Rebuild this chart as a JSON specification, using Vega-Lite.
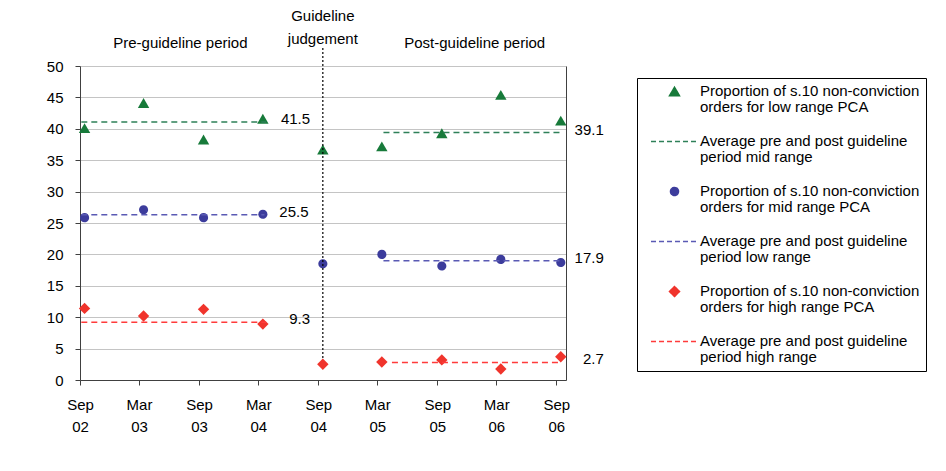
{
  "$schema": "https://vega.github.io/schema/vega-lite/v6.json",
  "width": 486,
  "height": 314,
  "autosize": "none",
  "padding": {"left": 80, "top": 66, "right": 380, "bottom": 91},
  "background": "white",
  "config": {
    "font": "Liberation Sans",
    "view": {"stroke": null},
    "axis": {"labelFontSize": 15, "labelColor": "black", "domainColor": "#404040", "tickColor": "#404040", "gridColor": "#c4c4c4"},
    "legend": {
      "strokeColor": "black", "padding": 6,
      "symbolOffset": 24, "labelOffset": 18, "labelFontSize": 15, "labelColor": "black",
      "labelLimit": 400, "rowPadding": 18, "symbolSize": 100, "symbolStrokeWidth": 1.5,
      "labelBaseline": "top"
    }
  },
  "datasets": {
    "points": [
      {"series": "low", "date": "2002-09-15", "value": 40.1},
      {"series": "low", "date": "2003-03-15", "value": 44.1},
      {"series": "low", "date": "2003-09-15", "value": 38.3},
      {"series": "low", "date": "2004-03-15", "value": 41.6},
      {"series": "low", "date": "2004-09-15", "value": 36.7},
      {"series": "low", "date": "2005-03-15", "value": 37.2},
      {"series": "low", "date": "2005-09-15", "value": 39.3},
      {"series": "low", "date": "2006-03-15", "value": 45.4},
      {"series": "low", "date": "2006-09-15", "value": 41.3},
      {"series": "mid", "date": "2002-09-15", "value": 25.85},
      {"series": "mid", "date": "2003-03-15", "value": 27.1},
      {"series": "mid", "date": "2003-09-15", "value": 25.85},
      {"series": "mid", "date": "2004-03-15", "value": 26.4},
      {"series": "mid", "date": "2004-09-15", "value": 18.5},
      {"series": "mid", "date": "2005-03-15", "value": 20.0},
      {"series": "mid", "date": "2005-09-15", "value": 18.15},
      {"series": "mid", "date": "2006-03-15", "value": 19.2},
      {"series": "mid", "date": "2006-09-15", "value": 18.7},
      {"series": "high", "date": "2002-09-15", "value": 11.4},
      {"series": "high", "date": "2003-03-15", "value": 10.2},
      {"series": "high", "date": "2003-09-15", "value": 11.25},
      {"series": "high", "date": "2004-03-15", "value": 8.9},
      {"series": "high", "date": "2004-09-15", "value": 2.5},
      {"series": "high", "date": "2005-03-15", "value": 2.87},
      {"series": "high", "date": "2005-09-15", "value": 3.2},
      {"series": "high", "date": "2006-03-15", "value": 1.75},
      {"series": "high", "date": "2006-09-15", "value": 3.7}
    ],
    "averages": [
      {"series": "low avg", "period": "pre", "start": "2002-09-05", "end": "2004-03-25", "value": 41.1, "label": "41.5"},
      {"series": "low avg", "period": "post", "start": "2005-03-20", "end": "2006-09-12", "value": 39.4, "label": "39.1"},
      {"series": "mid avg", "period": "pre", "start": "2002-09-05", "end": "2004-03-20", "value": 26.3, "label": "25.5"},
      {"series": "mid avg", "period": "post", "start": "2005-03-20", "end": "2006-09-12", "value": 19.0, "label": "17.9"},
      {"series": "high avg", "period": "pre", "start": "2002-09-05", "end": "2004-03-25", "value": 9.2, "label": "9.3"},
      {"series": "high avg", "period": "post", "start": "2005-04-15", "end": "2006-09-12", "value": 2.8, "label": "2.7"}
    ],
    "judgement": [
      {"date": "2004-09-15", "y": 3.5, "y2": 53}
    ],
    "notes": [
      {"date": "2003-07-06", "y": 53.7, "text": "Pre-guideline period"},
      {"date": "2004-09-15", "y": 57.9, "text": "Guideline\njudgement"},
      {"date": "2005-12-25", "y": 53.7, "text": "Post-guideline period"}
    ]
  },
  "resolve": {"axis": {"y": "independent"}},
  "layer": [
    {
      "data": {"name": "points"},
      "mark": {"type": "point", "filled": true, "opacity": 1, "size": 130},
      "encoding": {
        "x": {
          "field": "date", "type": "temporal", "title": null,
          "scale": {"type": "utc", "domain": [{"year": 2002, "month": 9, "date": 1, "utc": true}, {"year": 2006, "month": 10, "date": 1, "utc": true}]},
          "axis": {
            "values": [
              {"year": 2002, "month": 9, "date": 1, "utc": true},
              {"year": 2003, "month": 3, "date": 1, "utc": true},
              {"year": 2003, "month": 9, "date": 1, "utc": true},
              {"year": 2004, "month": 3, "date": 1, "utc": true},
              {"year": 2004, "month": 9, "date": 1, "utc": true},
              {"year": 2005, "month": 3, "date": 1, "utc": true},
              {"year": 2005, "month": 9, "date": 1, "utc": true},
              {"year": 2006, "month": 3, "date": 1, "utc": true},
              {"year": 2006, "month": 9, "date": 1, "utc": true}
            ],
            "labelExpr": "[utcFormat(datum.value, '%b'), utcFormat(datum.value, '%y')]",
            "labelLineHeight": 22, "tickSize": 5, "labelPadding": 12.5, "grid": false,
            "labelFlush": false, "labelOverlap": false, "title": null
          }
        },
        "y": {
          "field": "value", "type": "quantitative", "title": null,
          "scale": {"domain": [0, 50]},
          "axis": {"values": [0, 5, 10, 15, 20, 25, 30, 35, 40, 45, 50], "tickSize": 5, "labelPadding": 12, "grid": true, "title": null}
        },
        "color": {
          "field": "series", "type": "nominal",
          "scale": {"domain": ["low", "low avg", "mid", "mid avg", "high", "high avg"], "range": ["#177a3a", "#2e8058", "#3c3c9c", "#5a5ab4", "#f0342c", "#ff3b3b"]},
          "legend": {
            "title": null, "orient": "none", "legendX": 557, "legendY": 12,
            "labelExpr": "datum.value == 'low' ? ['Proportion of s.10 non-conviction', 'orders for low range PCA'] : datum.value == 'low avg' ? ['Average pre and post guideline', 'period mid range'] : datum.value == 'mid' ? ['Proportion of s.10 non-conviction', 'orders for mid range PCA'] : datum.value == 'mid avg' ? ['Average pre and post guideline', 'period low range'] : datum.value == 'high' ? ['Proportion of s.10 non-conviction', 'orders for high range PCA'] : ['Average pre and post guideline', 'period high range']",
            "encoding": {
              "symbols": {
                "fill": {"condition": {"test": "indexof(datum.value, 'avg') >= 0", "value": "transparent"}, "value": {"expr": "scale('color', datum.value)"}},
                "stroke": {"condition": {"test": "indexof(datum.value, 'avg') >= 0", "value": {"expr": "scale('color', datum.value)"}}, "value": "transparent"},
                "strokeDash": {"condition": {"test": "indexof(datum.value, 'avg') >= 0", "value": [5, 3]}, "value": [1, 0]},
                "opacity": {"value": 1}
              },
              "labels": {"dy": {"value": -8}, "lineHeight": {"value": 16}}
            }
          }
        },
        "shape": {
          "field": "series", "type": "nominal",
          "scale": {"domain": ["low", "low avg", "mid", "mid avg", "high", "high avg"], "range": ["triangle-up", "M-4.7,0H4.7", "M0,-0.8A0.8,0.8,0,1,1,0,0.8A0.8,0.8,0,1,1,0,-0.8Z", "M-4.7,0H4.7", "diamond", "M-4.7,0H4.7"]},
          "legend": {
            "title": null, "orient": "none", "legendX": 557, "legendY": 12,
            "labelExpr": "datum.value == 'low' ? ['Proportion of s.10 non-conviction', 'orders for low range PCA'] : datum.value == 'low avg' ? ['Average pre and post guideline', 'period mid range'] : datum.value == 'mid' ? ['Proportion of s.10 non-conviction', 'orders for mid range PCA'] : datum.value == 'mid avg' ? ['Average pre and post guideline', 'period low range'] : datum.value == 'high' ? ['Proportion of s.10 non-conviction', 'orders for high range PCA'] : ['Average pre and post guideline', 'period high range']",
            "encoding": {
              "symbols": {
                "fill": {"condition": {"test": "indexof(datum.value, 'avg') >= 0", "value": "transparent"}, "value": {"expr": "scale('color', datum.value)"}},
                "stroke": {"condition": {"test": "indexof(datum.value, 'avg') >= 0", "value": {"expr": "scale('color', datum.value)"}}, "value": "transparent"},
                "strokeDash": {"condition": {"test": "indexof(datum.value, 'avg') >= 0", "value": [5, 3]}, "value": [1, 0]},
                "opacity": {"value": 1}
              },
              "labels": {"dy": {"value": -8}, "lineHeight": {"value": 16}}
            }
          }
        }
      }
    },
    {
      "data": {"name": "averages"},
      "mark": {"type": "rule", "strokeDash": [6, 4], "strokeWidth": 1.5},
      "encoding": {
        "x": {"field": "start", "type": "temporal", "title": null},
        "x2": {"field": "end"},
        "y": {"field": "value", "type": "quantitative", "title": null, "scale": {"domain": [0, 50]}, "axis": null},
        "color": {
          "field": "series", "type": "nominal",
          "legend": {
            "title": null, "orient": "none", "legendX": 557, "legendY": 12,
            "labelExpr": "datum.value == 'low' ? ['Proportion of s.10 non-conviction', 'orders for low range PCA'] : datum.value == 'low avg' ? ['Average pre and post guideline', 'period mid range'] : datum.value == 'mid' ? ['Proportion of s.10 non-conviction', 'orders for mid range PCA'] : datum.value == 'mid avg' ? ['Average pre and post guideline', 'period low range'] : datum.value == 'high' ? ['Proportion of s.10 non-conviction', 'orders for high range PCA'] : ['Average pre and post guideline', 'period high range']",
            "encoding": {
              "symbols": {
                "fill": {"condition": {"test": "indexof(datum.value, 'avg') >= 0", "value": "transparent"}, "value": {"expr": "scale('color', datum.value)"}},
                "stroke": {"condition": {"test": "indexof(datum.value, 'avg') >= 0", "value": {"expr": "scale('color', datum.value)"}}, "value": "transparent"},
                "strokeDash": {"condition": {"test": "indexof(datum.value, 'avg') >= 0", "value": [5, 3]}, "value": [1, 0]},
                "opacity": {"value": 1}
              },
              "labels": {"dy": {"value": -8}, "lineHeight": {"value": 16}}
            }
          }
        }
      }
    },
    {
      "data": {"name": "averages"},
      "mark": {"type": "text", "align": "right", "baseline": "middle", "dx": 44, "dy": -3, "fontSize": 15, "color": "black"},
      "encoding": {
        "x": {"field": "end", "type": "temporal", "title": null},
        "y": {"field": "value", "type": "quantitative", "title": null, "scale": {"domain": [0, 50]}, "axis": null},
        "text": {"field": "label", "type": "nominal"}
      }
    },
    {
      "data": {"name": "judgement"},
      "mark": {"type": "rule", "strokeDash": [2, 2], "strokeWidth": 1.2, "color": "black"},
      "encoding": {
        "x": {"field": "date", "type": "temporal", "title": null},
        "y": {
          "field": "y", "type": "quantitative", "title": null, "scale": {"domain": [0, 50]},
          "axis": {"orient": "right", "labels": false, "ticks": false, "grid": false, "title": null, "domainColor": "#404040"}
        },
        "y2": {"field": "y2"}
      }
    },
    {
      "data": {"name": "notes"},
      "mark": {"type": "text", "align": "center", "baseline": "middle", "fontSize": 15, "lineBreak": "\n", "lineHeight": 23, "color": "black"},
      "encoding": {
        "x": {"field": "date", "type": "temporal", "title": null},
        "y": {"field": "y", "type": "quantitative", "title": null, "scale": {"domain": [0, 50]}, "axis": null},
        "text": {"field": "text", "type": "nominal"}
      }
    }
  ]
}
